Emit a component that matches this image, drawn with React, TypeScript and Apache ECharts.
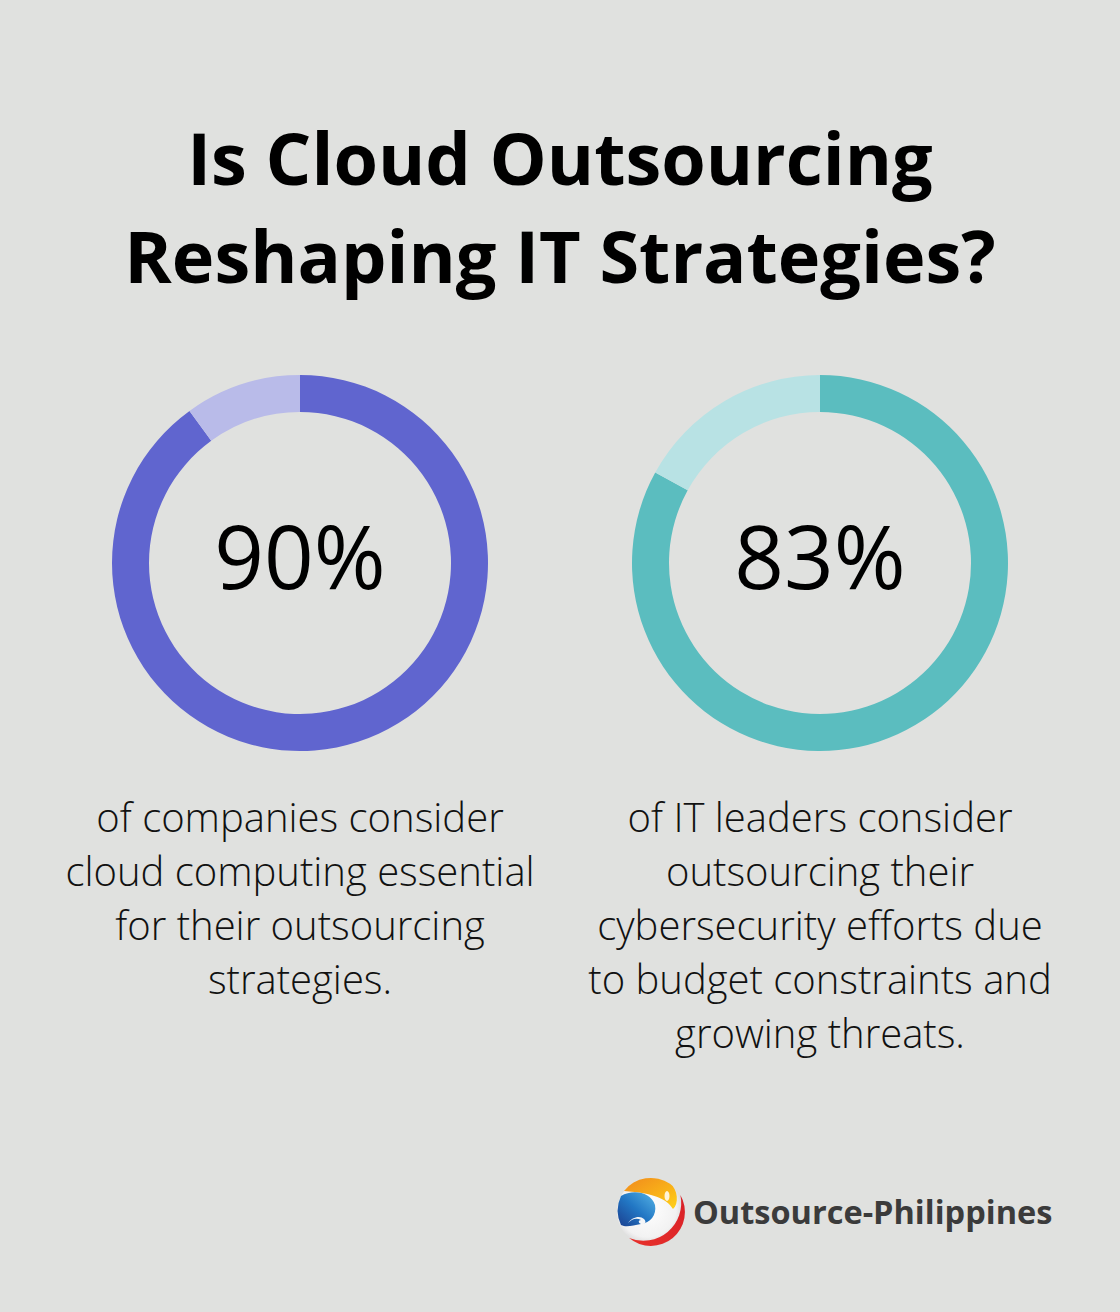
import React, { useEffect, useRef } from "react";
import * as echarts from "echarts";

const titleLines = ["Is Cloud Outsourcing", "Reshaping IT Strategies?"];
const statValues = [90, 83];
const statLabels = ["90%", "83%"];
const statTexts = [
  ["of companies consider", "cloud computing essential", "for their outsourcing", "strategies."],
  ["of IT leaders consider", "outsourcing their", "cybersecurity efforts due", "to budget constraints and", "growing threats."],
];
const mainColors = ["#6065cf", "#5bbdbf"];
const restColors = ["#b9bbe9", "#b8e2e4"];
const brandName = "Outsource-Philippines";

const BG = "#e0e1df";
const CENTERS_X = [300, 820];
const CENTER_Y = 563;

// logo shapes (local coords, 0..70 box, centre 35,35)
const RED_D = "M64.4 18 A34 34 0 0 1 13.1 61 A37.9 37.9 0 0 0 64.4 18 Z";
const ORANGE_D =
  "M8 14 A34 34 0 0 1 54 6.8 C62 12 63 27 57 32 C51 22 38 16 8 14 Z";
const BLUE_D =
  "M5 19 C17 12 35 15 39 28 C41 38 34 46 25 47 C17 48 11 51 5 48 A34 34 0 0 1 5 19 Z";
const SWIRL_D =
  "M12 46 C16 40 24 38 28 42 C31 45 29 48 25 47 C22 46 22 43 25 43 C20 40 15 43 12 46 Z";

echarts.graphic.registerShape("logoRed", echarts.graphic.extendPath(RED_D, {}));
echarts.graphic.registerShape("logoOrange", echarts.graphic.extendPath(ORANGE_D, {}));
echarts.graphic.registerShape("logoBlue", echarts.graphic.extendPath(BLUE_D, {}));
echarts.graphic.registerShape("logoSwirl", echarts.graphic.extendPath(SWIRL_D, {}));

export default function App() {
  const ref = useRef<HTMLDivElement>(null);
  useEffect(() => {
    document.body.style.margin = "0";
    const chart = echarts.init(ref.current!, null, { renderer: "svg" });

    const series: any[] = statValues.map((v, i) => ({
      type: "pie",
      center: [CENTERS_X[i], CENTER_Y],
      radius: [151, 188],
      startAngle: 90,
      clockwise: true,
      silent: true,
      label: { show: false },
      labelLine: { show: false },
      itemStyle: { borderWidth: 0 },
      data: [
        { value: v, itemStyle: { color: mainColors[i] } },
        { value: 100 - v, itemStyle: { color: restColors[i] } },
      ],
    }));

    const graphics: any[] = [];
    titleLines.forEach((t, i) => {
      graphics.push({
        type: "text",
        x: 560,
        y: 157 + i * 98,
        style: {
          text: t,
          fontFamily: "Open Sans",
          fontWeight: "bold",
          fontSize: 72,
          fill: "#000000",
          align: "center",
          verticalAlign: "middle",
        },
      });
    });
    statLabels.forEach((t, i) => {
      graphics.push({
        type: "text",
        x: CENTERS_X[i],
        y: 555,
        style: {
          text: t,
          fontFamily: "Open Sans",
          fontWeight: 500,
          fontSize: 87,
          fill: "#000000",
          align: "center",
          verticalAlign: "middle",
        },
      });
    });
    statTexts.forEach((lines, i) => {
      lines.forEach((t, j) => {
        graphics.push({
          type: "text",
          x: CENTERS_X[i],
          y: 816 + j * 54,
          style: {
            text: t,
            fontFamily: "Open Sans",
            fontWeight: 300,
            fontSize: 40,
            fill: "#111111",
            align: "center",
            verticalAlign: "middle",
          },
        });
      });
    });

    // logo
    const lx = 651 - 35;
    const ly = 1212 - 35;
    graphics.push({
      type: "group",
      x: lx,
      y: ly,
      children: [
        {
          type: "circle",
          shape: { cx: 35, cy: 35, r: 34 },
          style: {
            fill: {
              type: "radial",
              x: 0.45,
              y: 0.45,
              r: 0.6,
              colorStops: [
                { offset: 0, color: "#ffffff" },
                { offset: 0.7, color: "#f2f2f2" },
                { offset: 1, color: "#c9c9c9" },
              ],
            },
          },
        },
        {
          type: "logoRed",
          style: {
            fill: {
              type: "linear",
              x: 1,
              y: 0,
              x2: 0,
              y2: 1,
              colorStops: [
                { offset: 0, color: "#d81f26" },
                { offset: 1, color: "#e8322c" },
              ],
            },
          },
        },
        {
          type: "logoOrange",
          style: {
            fill: {
              type: "linear",
              x: 0,
              y: 0,
              x2: 1,
              y2: 1,
              colorStops: [
                { offset: 0, color: "#f08a1d" },
                { offset: 0.6, color: "#f9b218" },
                { offset: 1, color: "#ffd21a" },
              ],
            },
          },
        },
        {
          type: "ellipse",
          shape: { cx: 51, cy: 19, rx: 2.5, ry: 5 },
          style: { fill: "#fff4d8" },
        },
        {
          type: "logoBlue",
          style: {
            fill: {
              type: "linear",
              x: 1,
              y: 0,
              x2: 0,
              y2: 1,
              colorStops: [
                { offset: 0, color: "#56b4e6" },
                { offset: 0.5, color: "#2277c4" },
                { offset: 1, color: "#1b3f8f" },
              ],
            },
          },
        },
        {
          type: "logoSwirl",
          style: { fill: "#f4f6f8" },
        },
      ],
    });

    graphics.push({
      type: "text",
      x: 693,
      y: 1211,
      style: {
        text: brandName,
        fontFamily: "Open Sans",
        fontWeight: "bold",
        fontSize: 32.5,
        fill: "#3b3b3b",
        align: "left",
        verticalAlign: "middle",
      },
    });

    chart.setOption({
      animation: false,
      backgroundColor: BG,
      series,
      graphic: { elements: graphics },
    });
    return () => chart.dispose();
  }, []);
  return (
    <div
      ref={ref}
      style={{ width: 1120, height: 1312, position: "absolute", left: 0, top: 0 }}
    />
  );
}
